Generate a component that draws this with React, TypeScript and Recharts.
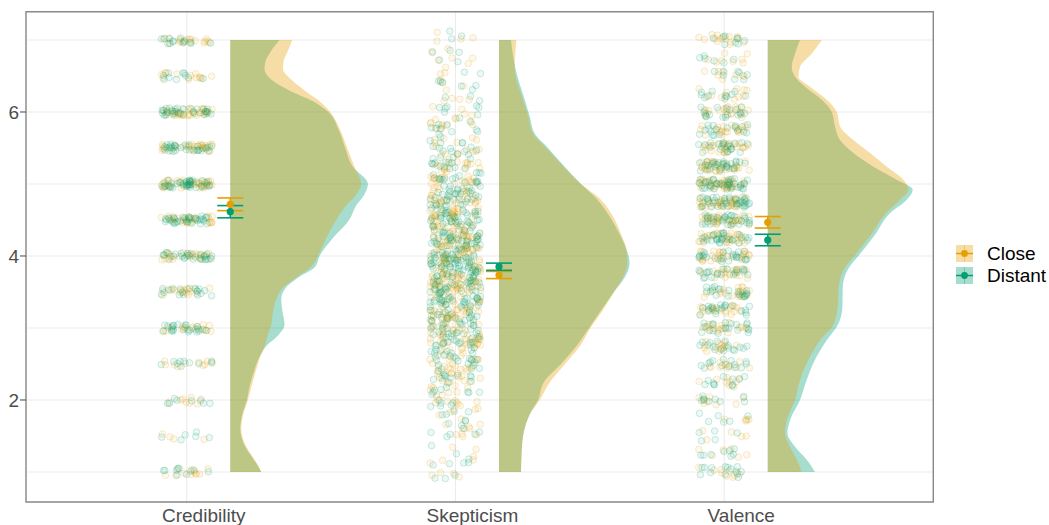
import React from 'react';
import {
  ComposedChart,
  Area,
  Scatter,
  XAxis,
  YAxis,
  CartesianGrid,
  ErrorBar,
  ReferenceArea,
  Legend,
} from 'recharts';

// ---------------- data ----------------
const categories = ['Credibility', 'Skepticism', 'Valence'];
const groups = ['Close', 'Distant'];
const closeColor = '#E69F00';
const distantColor = '#009E73';

const meanClose = [4.718, 3.736, 4.468];
const seClose = [0.088, 0.05, 0.08];
const meanDistant = [4.615, 3.851, 4.222];
const seDistant = [0.085, 0.05, 0.08];

const yTicks = [1, 2, 3, 4, 5, 6, 7];
const yLabelTicks = [2, 4, 6];
const xTicks = [1, 2, 3];

// density curves (half violins): value levels and density heights
const credLevels = [1.0, 1.1, 1.2, 1.4, 1.6, 1.8, 2.0, 2.2, 2.4, 2.6, 2.75, 2.9, 3.05, 3.25, 3.4, 3.55, 3.7, 3.85, 4.0, 4.25, 4.5, 4.7, 4.85, 5.0, 5.25, 5.5, 5.75, 6.0, 6.15, 6.3, 6.45, 6.6, 6.7, 6.85, 7.0];
const credClose = [0.31, 0.275, 0.23, 0.143, 0.11, 0.13, 0.177, 0.215, 0.255, 0.3, 0.345, 0.375, 0.41, 0.43, 0.46, 0.52, 0.66, 0.81, 0.877, 0.96, 1.06, 1.16, 1.26, 1.31, 1.24, 1.17, 1.1, 1.0, 0.893, 0.743, 0.61, 0.527, 0.533, 0.577, 0.62];
const credDistant = [0.31, 0.27, 0.22, 0.133, 0.1, 0.12, 0.167, 0.195, 0.238, 0.293, 0.36, 0.48, 0.543, 0.52, 0.51, 0.55, 0.68, 0.85, 0.893, 1.027, 1.19, 1.26, 1.34, 1.377, 1.22, 1.15, 1.085, 0.98, 0.827, 0.59, 0.41, 0.343, 0.353, 0.41, 0.493];

const skepLevels = [1.0, 1.3, 1.55, 1.8, 2.0, 2.25, 2.5, 2.75, 3.0, 3.25, 3.5, 3.7, 3.9, 4.1, 4.3, 4.55, 4.8, 5.0, 5.25, 5.5, 5.7, 5.95, 6.2, 6.6, 7.0];
const skepClose = [0.22, 0.227, 0.247, 0.307, 0.407, 0.51, 0.66, 0.81, 0.915, 1.04, 1.15, 1.24, 1.283, 1.273, 1.223, 1.14, 1.007, 0.82, 0.64, 0.473, 0.34, 0.29, 0.233, 0.157, 0.173];
const skepDistant = [0.22, 0.227, 0.247, 0.307, 0.39, 0.45, 0.62, 0.775, 0.9, 1.023, 1.15, 1.257, 1.307, 1.273, 1.207, 1.107, 0.973, 0.82, 0.65, 0.49, 0.357, 0.305, 0.25, 0.165, 0.12];

const valLevels = [1.0, 1.17, 1.35, 1.54, 1.72, 2.0, 2.28, 2.56, 2.83, 3.06, 3.3, 3.57, 3.81, 4.04, 4.31, 4.59, 4.78, 4.92, 5.06, 5.24, 5.43, 5.61, 5.8, 6.0, 6.17, 6.35, 6.49, 6.63, 6.81, 7.0];
const valClose = [0.34, 0.29, 0.223, 0.173, 0.19, 0.273, 0.323, 0.407, 0.523, 0.66, 0.7, 0.71, 0.76, 0.89, 1.04, 1.18, 1.323, 1.407, 1.357, 1.19, 1.023, 0.857, 0.723, 0.69, 0.59, 0.423, 0.307, 0.323, 0.44, 0.54];
const valDistant = [0.473, 0.39, 0.273, 0.197, 0.223, 0.323, 0.39, 0.473, 0.59, 0.707, 0.747, 0.75, 0.8, 0.93, 1.08, 1.22, 1.39, 1.45, 1.29, 1.057, 0.857, 0.723, 0.673, 0.64, 0.54, 0.373, 0.273, 0.24, 0.273, 0.323];

// raw responses (counts per response level) shown as jittered points
const credPointLevels = [1, 1.5, 2, 2.5, 3, 3.5, 4, 4.5, 5, 5.5, 6, 6.5, 7];
const credCountClose = [11, 4, 8, 10, 17, 17, 25, 28, 39, 31, 34, 13, 17];
const credCountDistant = [10, 6, 8, 10, 24, 18, 28, 35, 42, 31, 31, 10, 14];

const quarterLevels = [1, 1.25, 1.5, 1.75, 2, 2.25, 2.5, 2.75, 3, 3.25, 3.5, 3.75, 4, 4.25, 4.5, 4.75, 5, 5.25, 5.5, 5.75, 6, 6.25, 6.5, 6.75, 7];
const skepCountClose = [5, 5, 6, 8, 13, 18, 22, 27, 30, 35, 40, 42, 42, 42, 38, 32, 26, 18, 13, 10, 8, 6, 5, 5, 5];
const skepCountDistant = [5, 5, 6, 8, 11, 14, 19, 24, 29, 34, 40, 45, 45, 42, 37, 30, 26, 19, 14, 11, 8, 6, 5, 5, 3];
const valCountClose = [9, 6, 5, 5, 8, 9, 11, 14, 18, 20, 20, 21, 27, 30, 33, 38, 40, 33, 27, 21, 20, 12, 8, 8, 15];
const valCountDistant = [14, 8, 5, 6, 9, 11, 14, 17, 20, 21, 21, 21, 26, 29, 33, 40, 39, 29, 21, 18, 18, 11, 8, 6, 9];

// ---------------- layout constants ----------------
const W = 1049;
const H = 525;
const X_DOMAIN: [number, number] = [0.402, 3.778];
const Y_DOMAIN: [number, number] = [0.583, 7.393];
const VIOLIN_OFFSET = 0.162;
const DENSITY_SCALE = 0.372;
const JITTER_W = 0.095;
const FILL_ALPHA = 0.35;
const FONT = '"Liberation Sans", Arial, Helvetica, sans-serif';

const violinData = (cat: number, levels: number[], dens: number[]) =>
  levels.map((y, i) => ({ y, x: cat + VIOLIN_OFFSET + dens[i] * DENSITY_SCALE }));

const violins = [
  { cat: 1, close: violinData(1, credLevels, credClose), distant: violinData(1, credLevels, credDistant) },
  { cat: 2, close: violinData(2, skepLevels, skepClose), distant: violinData(2, skepLevels, skepDistant) },
  { cat: 3, close: violinData(3, valLevels, valClose), distant: violinData(3, valLevels, valDistant) },
];

// deterministic hash used only to spread overlapping points (display jitter)
const hash = (n: number, s: number) => {
  const v = Math.sin(n * 12.9898 + s * 78.233) * 43758.5453;
  return v - Math.floor(v);
};

function jitterPoints(cat: number, levels: number[], counts: number[], jh: number, seed: number) {
  const pts: { x: number; y: number }[] = [];
  let k = 0;
  levels.forEach((lv, i) => {
    for (let j = 0; j < counts[i]; j++) {
      const u = hash(k + 1, seed);
      const v = hash(k + 1, seed + 3.17);
      pts.push({ x: cat + (u * 2 - 1) * JITTER_W, y: lv + (v * 2 - 1) * jh });
      k++;
    }
  });
  return pts;
}

const closePoints = [
  ...jitterPoints(1, credPointLevels, credCountClose, 0.055, 1.3),
  ...jitterPoints(2, quarterLevels, skepCountClose, 0.125, 2.4),
  ...jitterPoints(3, quarterLevels, valCountClose, 0.075, 3.7),
];
const distantPoints = [
  ...jitterPoints(1, credPointLevels, credCountDistant, 0.055, 4.8),
  ...jitterPoints(2, quarterLevels, skepCountDistant, 0.125, 5.9),
  ...jitterPoints(3, quarterLevels, valCountDistant, 0.075, 6.2),
];

const closeMeans = meanClose.map((m, i) => ({ x: i + 1 + VIOLIN_OFFSET, y: m, se: seClose[i] }));
const distantMeans = meanDistant.map((m, i) => ({ x: i + 1 + VIOLIN_OFFSET, y: m, se: seDistant[i] }));

const legendItems = [
  { name: groups[0], color: closeColor },
  { name: groups[1], color: distantColor },
];

// ---------------- render helpers ----------------
const makeJitterDot = (color: string) => (props: any) => {
  if (props.cx == null || props.cy == null) return <g />;
  return (
    <circle
      cx={props.cx}
      cy={props.cy}
      r={3.3}
      fill={color}
      fillOpacity={0.07}
      stroke={color}
      strokeOpacity={0.2}
      strokeWidth={1}
    />
  );
};

const makeMeanDot = (color: string) => (props: any) => {
  if (props.cx == null || props.cy == null) return <g />;
  return <circle cx={props.cx} cy={props.cy} r={3.6} fill={color} />;
};

const XTick = (props: any) => {
  const { x, y, payload } = props;
  const label = categories[Math.round(payload.value) - 1] ?? '';
  return (
    <text x={x + 17} y={y} dy={12} textAnchor="middle" fill="#4d4d4d" fontSize={19} fontFamily={FONT}>
      {label}
    </text>
  );
};

const YTick = (props: any) => {
  const { x, y, payload } = props;
  if (!yLabelTicks.includes(payload.value)) return <g />;
  return (
    <g>
      <line x1={x + 1} x2={x + 7} y1={y} y2={y} stroke="#555" strokeWidth={1.1} />
      <text x={x} y={y} dy="0.36em" textAnchor="end" fill="#4d4d4d" fontSize={19} fontFamily={FONT}>
        {payload.value}
      </text>
    </g>
  );
};

const renderLegend = () => (
  <svg width={99} height={48} style={{ display: 'block', overflow: 'visible' }}>
    {legendItems.map((it, i) => {
      const ky = 5 + i * 22;
      return (
        <g key={it.name}>
          <rect x={6} y={ky} width={17} height={17} fill={it.color} fillOpacity={FILL_ALPHA} />
          <line x1={14.5} x2={14.5} y1={ky} y2={ky + 17} stroke={it.color} strokeOpacity={0.35} strokeWidth={1} />
          <line x1={6} x2={23} y1={ky + 8.5} y2={ky + 8.5} stroke={it.color} strokeWidth={1.5} />
          <circle cx={14.5} cy={ky + 8.5} r={3.4} fill={it.color} />
          <text x={37} y={ky + 15.3} fontSize={19} fill="#000" fontFamily={FONT}>
            {it.name}
          </text>
        </g>
      );
    })}
  </svg>
);

export default function App() {
  return (
    <div style={{ position: 'absolute', left: 0, top: 0, width: W, height: H, background: '#fff' }}>
      <ComposedChart
        width={W}
        height={H}
        layout="vertical"
        margin={{ top: 11.7, right: 115.7, bottom: 0, left: 0 }}
      >
        <CartesianGrid stroke="#ebebeb" strokeWidth={1.1} />
        <XAxis
          type="number"
          dataKey="x"
          domain={X_DOMAIN}
          allowDataOverflow
          ticks={xTicks}
          interval={0}
          height={23}
          axisLine={false}
          tickLine={false}
          tickSize={6}
          tickMargin={2}
          tick={<XTick />}
        />
        <YAxis
          type="number"
          dataKey="y"
          domain={Y_DOMAIN}
          allowDataOverflow
          reversed
          ticks={yTicks}
          interval={0}
          width={26}
          axisLine={false}
          tickLine={false}
          tickSize={6}
          tickMargin={1}
          tick={<YTick />}
        />

        <Scatter name="closeRaw" data={closePoints} shape={makeJitterDot(closeColor)} isAnimationActive={false} legendType="none" />
        <Scatter name="distantRaw" data={distantPoints} shape={makeJitterDot(distantColor)} isAnimationActive={false} legendType="none" />

        {violins.map((v) => (
          <Area
            key={`d${v.cat}`}
            data={v.distant}
            dataKey="x"
            type="monotone"
            baseValue={v.cat + VIOLIN_OFFSET}
            fill={distantColor}
            fillOpacity={FILL_ALPHA}
            stroke="none"
            dot={false}
            activeDot={false}
            isAnimationActive={false}
            legendType="none"
          />
        ))}
        {violins.map((v) => (
          <Area
            key={`c${v.cat}`}
            data={v.close}
            dataKey="x"
            type="monotone"
            baseValue={v.cat + VIOLIN_OFFSET}
            fill={closeColor}
            fillOpacity={FILL_ALPHA}
            stroke="none"
            dot={false}
            activeDot={false}
            isAnimationActive={false}
            legendType="none"
          />
        ))}

        <Scatter name="Close" data={closeMeans} shape={makeMeanDot(closeColor)} isAnimationActive={false}>
          <ErrorBar dataKey="se" direction="y" width={13} stroke={closeColor} strokeWidth={1.6} />
        </Scatter>
        <Scatter name="Distant" data={distantMeans} shape={makeMeanDot(distantColor)} isAnimationActive={false}>
          <ErrorBar dataKey="se" direction="y" width={13} stroke={distantColor} strokeWidth={1.6} />
        </Scatter>

        <ReferenceArea
          x1={X_DOMAIN[0]}
          x2={X_DOMAIN[1]}
          y1={Y_DOMAIN[0]}
          y2={Y_DOMAIN[1]}
          fill="none"
          stroke="#8a8a8a"
          strokeWidth={1.4}
        />

        <Legend
          layout="vertical"
          align="center"
          verticalAlign="middle"
          content={renderLegend}
          wrapperStyle={{ left: 950, top: 240, width: 99 }}
        />
      </ComposedChart>
    </div>
  );
}
